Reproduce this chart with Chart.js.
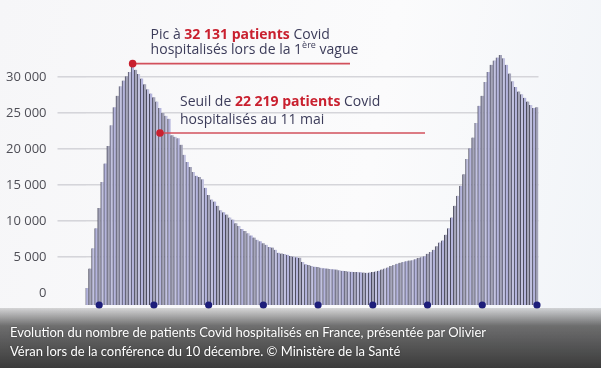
<!DOCTYPE html>
<html>
<head>
<meta charset="utf-8">
<script src="https://cdn.jsdelivr.net/npm/chart.js@4/dist/chart.umd.min.js"></script>
<style>
  html, body { margin: 0; padding: 0; background: #f7f7f9; }
  #wrap { position: relative; width: 601px; height: 368px; overflow: hidden;
    background: linear-gradient(100deg, #f6f6f8 0%, #fbfbfc 60%, #f1f4f8 100%); }
  #chart { position: absolute; left: 0; top: 0; }
  #caption { position: absolute; left: 0; right: 0; top: 308px; height: 60px;
    background: linear-gradient(to bottom, rgba(110,110,110,0.25) 0%, rgba(85,85,85,0.85) 30%, rgba(52,52,52,0.97) 100%);
    color: #fff; font: 13px Lato, sans-serif; line-height: 19px; padding: 15px 0 0 10px; box-sizing: border-box;
    text-shadow: 0 0 2px rgba(0,0,0,0.4); }
</style>
</head>
<body>
<div id="wrap">
  <canvas id="chart" width="601" height="368"></canvas>
  <div id="caption">Evolution du nombre de patients Covid hospitalisés en France, présentée par Olivier<br>Véran lors de la conférence du 10 décembre. © Ministère de la Santé</div>
</div>
<script>
// hospitalisations, one bar per step
const hospitalised = [
  700, 3400, 6200, 9000, 11800, 15400, 18000, 20400, 23300, 25800,
  27400, 28700, 29500, 30100, 30700, 32131, 31000, 30400, 29800, 29000,
  28300, 27700, 27200, 26600, 25700, 25000, 24600, 24200, 21900, 21700,
  21500, 20600, 19200, 18200, 17500, 16800, 16300, 16100, 15800, 14600,
  13600, 13000, 12700, 12100, 11500, 11200, 10900, 10500, 10200, 9700,
  9300, 8900, 8600, 8300, 8000, 7700, 7400, 7200, 6900, 6700,
  6400, 6300, 6000, 5600, 5500, 5400, 5300, 5150, 5050, 4950,
  4900, 4300, 4000, 3900, 3750, 3650, 3600, 3500, 3450, 3400,
  3330, 3300, 3250, 3150, 3080, 3050, 3000, 2950, 2920, 2900,
  2880, 2850, 2800, 2850, 2900, 3000, 3100, 3250, 3400, 3550,
  3750, 3900, 4050, 4200, 4300, 4400, 4500, 4550, 4700, 4850,
  4950, 5100, 5450, 5700, 6000, 6500, 7000, 7300, 8100, 9000,
  10500, 12100, 13500, 14900, 16500, 18600, 20100, 21600, 23600, 26000,
  27400, 29300, 30700, 31700, 32300, 32700, 33050, 32600, 31700, 30500,
  29400, 28600, 28000, 27600, 27100, 26600, 26100, 25700, 25800
];
const days = hospitalised.map((_, i) => 'J' + (i + 1));
const markerIdx = [4, 22, 40, 58, 76, 94, 112, 130, 148];
const yTicks = [0, 5000, 10000, 15000, 20000, 25000, 30000];
const yMin = -1670, yMax = 35000;

const peakIdx = 15, peakValue = 32131;
const seuilIdx = 24, seuilValue = 22219;

const RED = '#c9202f';
const TEXT = '#3c3c5a';

function fmt(v) {
  return String(v).replace(/\B(?=(\d{3})+(?!\d))/g, ' ');
}

function drawParts(ctx, parts, x, y) {
  for (const p of parts) {
    if (p.sup) {
      ctx.font = '9px "Open Sans"';
      ctx.fillStyle = TEXT;
      ctx.fillText(p.t, x, y - 6);
    } else {
      ctx.font = (p.b ? 'bold ' : '') + '14px "Open Sans"';
      ctx.fillStyle = p.b ? RED : TEXT;
      ctx.fillText(p.t, x, y);
    }
    x += ctx.measureText(p.t).width;
  }
}

const notes = {
  id: 'notes',
  afterDatasetsDraw(chart) {
    const { ctx, scales: { x, y } } = chart;
    const items = [
      { i: peakIdx, v: peakValue, end: 350, tx: 18, ty: [-25, -10],
        lines: [
          [{ t: 'Pic à ' }, { t: fmt(peakValue) + ' patients', b: true }, { t: ' Covid' }],
          [{ t: 'hospitalisés lors de la 1' }, { t: 'ère', sup: true }, { t: ' vague' }]
        ] },
      { i: seuilIdx, v: seuilValue, end: 425, tx: 20, ty: [-27, -9],
        lines: [
          [{ t: 'Seuil de ' }, { t: fmt(seuilValue) + ' patients', b: true }, { t: ' Covid' }],
          [{ t: 'hospitalisés au 11 mai' }]
        ] }
    ];
    ctx.save();
    for (const n of items) {
      const px = x.getPixelForValue(n.i), py = y.getPixelForValue(n.v) + (n.i === peakIdx ? 2 : 0);
      ctx.strokeStyle = '#d2505c';
      ctx.lineWidth = 1.6;
      ctx.beginPath();
      ctx.moveTo(px, py);
      ctx.lineTo(n.end, py);
      ctx.stroke();
      ctx.fillStyle = RED;
      ctx.beginPath();
      ctx.arc(px, py, 3.8, 0, Math.PI * 2);
      ctx.fill();
      ctx.textBaseline = 'alphabetic';
      n.lines.forEach((parts, k) => drawParts(ctx, parts, px + n.tx, py + n.ty[k]));
    }
    ctx.restore();
  }
};

new Chart(document.getElementById('chart'), {
  data: {
    labels: days,
    datasets: [
      {
        type: 'line',
        data: days.map((_, i) => markerIdx.includes(i) ? yMin : null),
        showLine: false,
        pointRadius: 3.6,
        pointBackgroundColor: '#1d1d7a',
        pointBorderWidth: 0,
        clip: false,
        order: 0
      },
      {
        type: 'bar',
        data: hospitalised,
        base: yMin,
        barPercentage: 1,
        categoryPercentage: 1,
        backgroundColor: (c) => c.dataIndex % 3 === 0 ? '#b4b4dc' : (c.dataIndex % 3 === 1 ? '#a5a5ba' : '#c2c2e0'),
        borderColor: '#4a4a5c',
        borderWidth: { left: 1, right: 0, top: 0, bottom: 0 },
        borderSkipped: false,
        order: 1
      }
    ]
  },
  options: {
    responsive: false,
    animation: false,
    layout: { padding: { left: 0, right: 62.5, top: 41, bottom: 63 } },
    plugins: { legend: { display: false }, tooltip: { enabled: false } },
    scales: {
      x: { display: false },
      y: {
        min: yMin,
        max: yMax,
        afterBuildTicks: (s) => { s.ticks = yTicks.map(v => ({ value: v })); },
        afterFit: (s) => { s.width = 85.5; },
        border: { display: false },
        grid: {
          color: (c) => c.tick && c.tick.value === 0 ? 'rgba(0,0,0,0)' : '#d5d5da',
          lineWidth: 1.6,
          tickLength: 28
        },
        ticks: {
          padding: 11,
          color: '#4e4e56',
          font: { family: 'Open Sans', size: 13 },
          callback: (v) => fmt(v)
        }
      }
    }
  },
  plugins: [notes]
});
</script>
</body>
</html>
